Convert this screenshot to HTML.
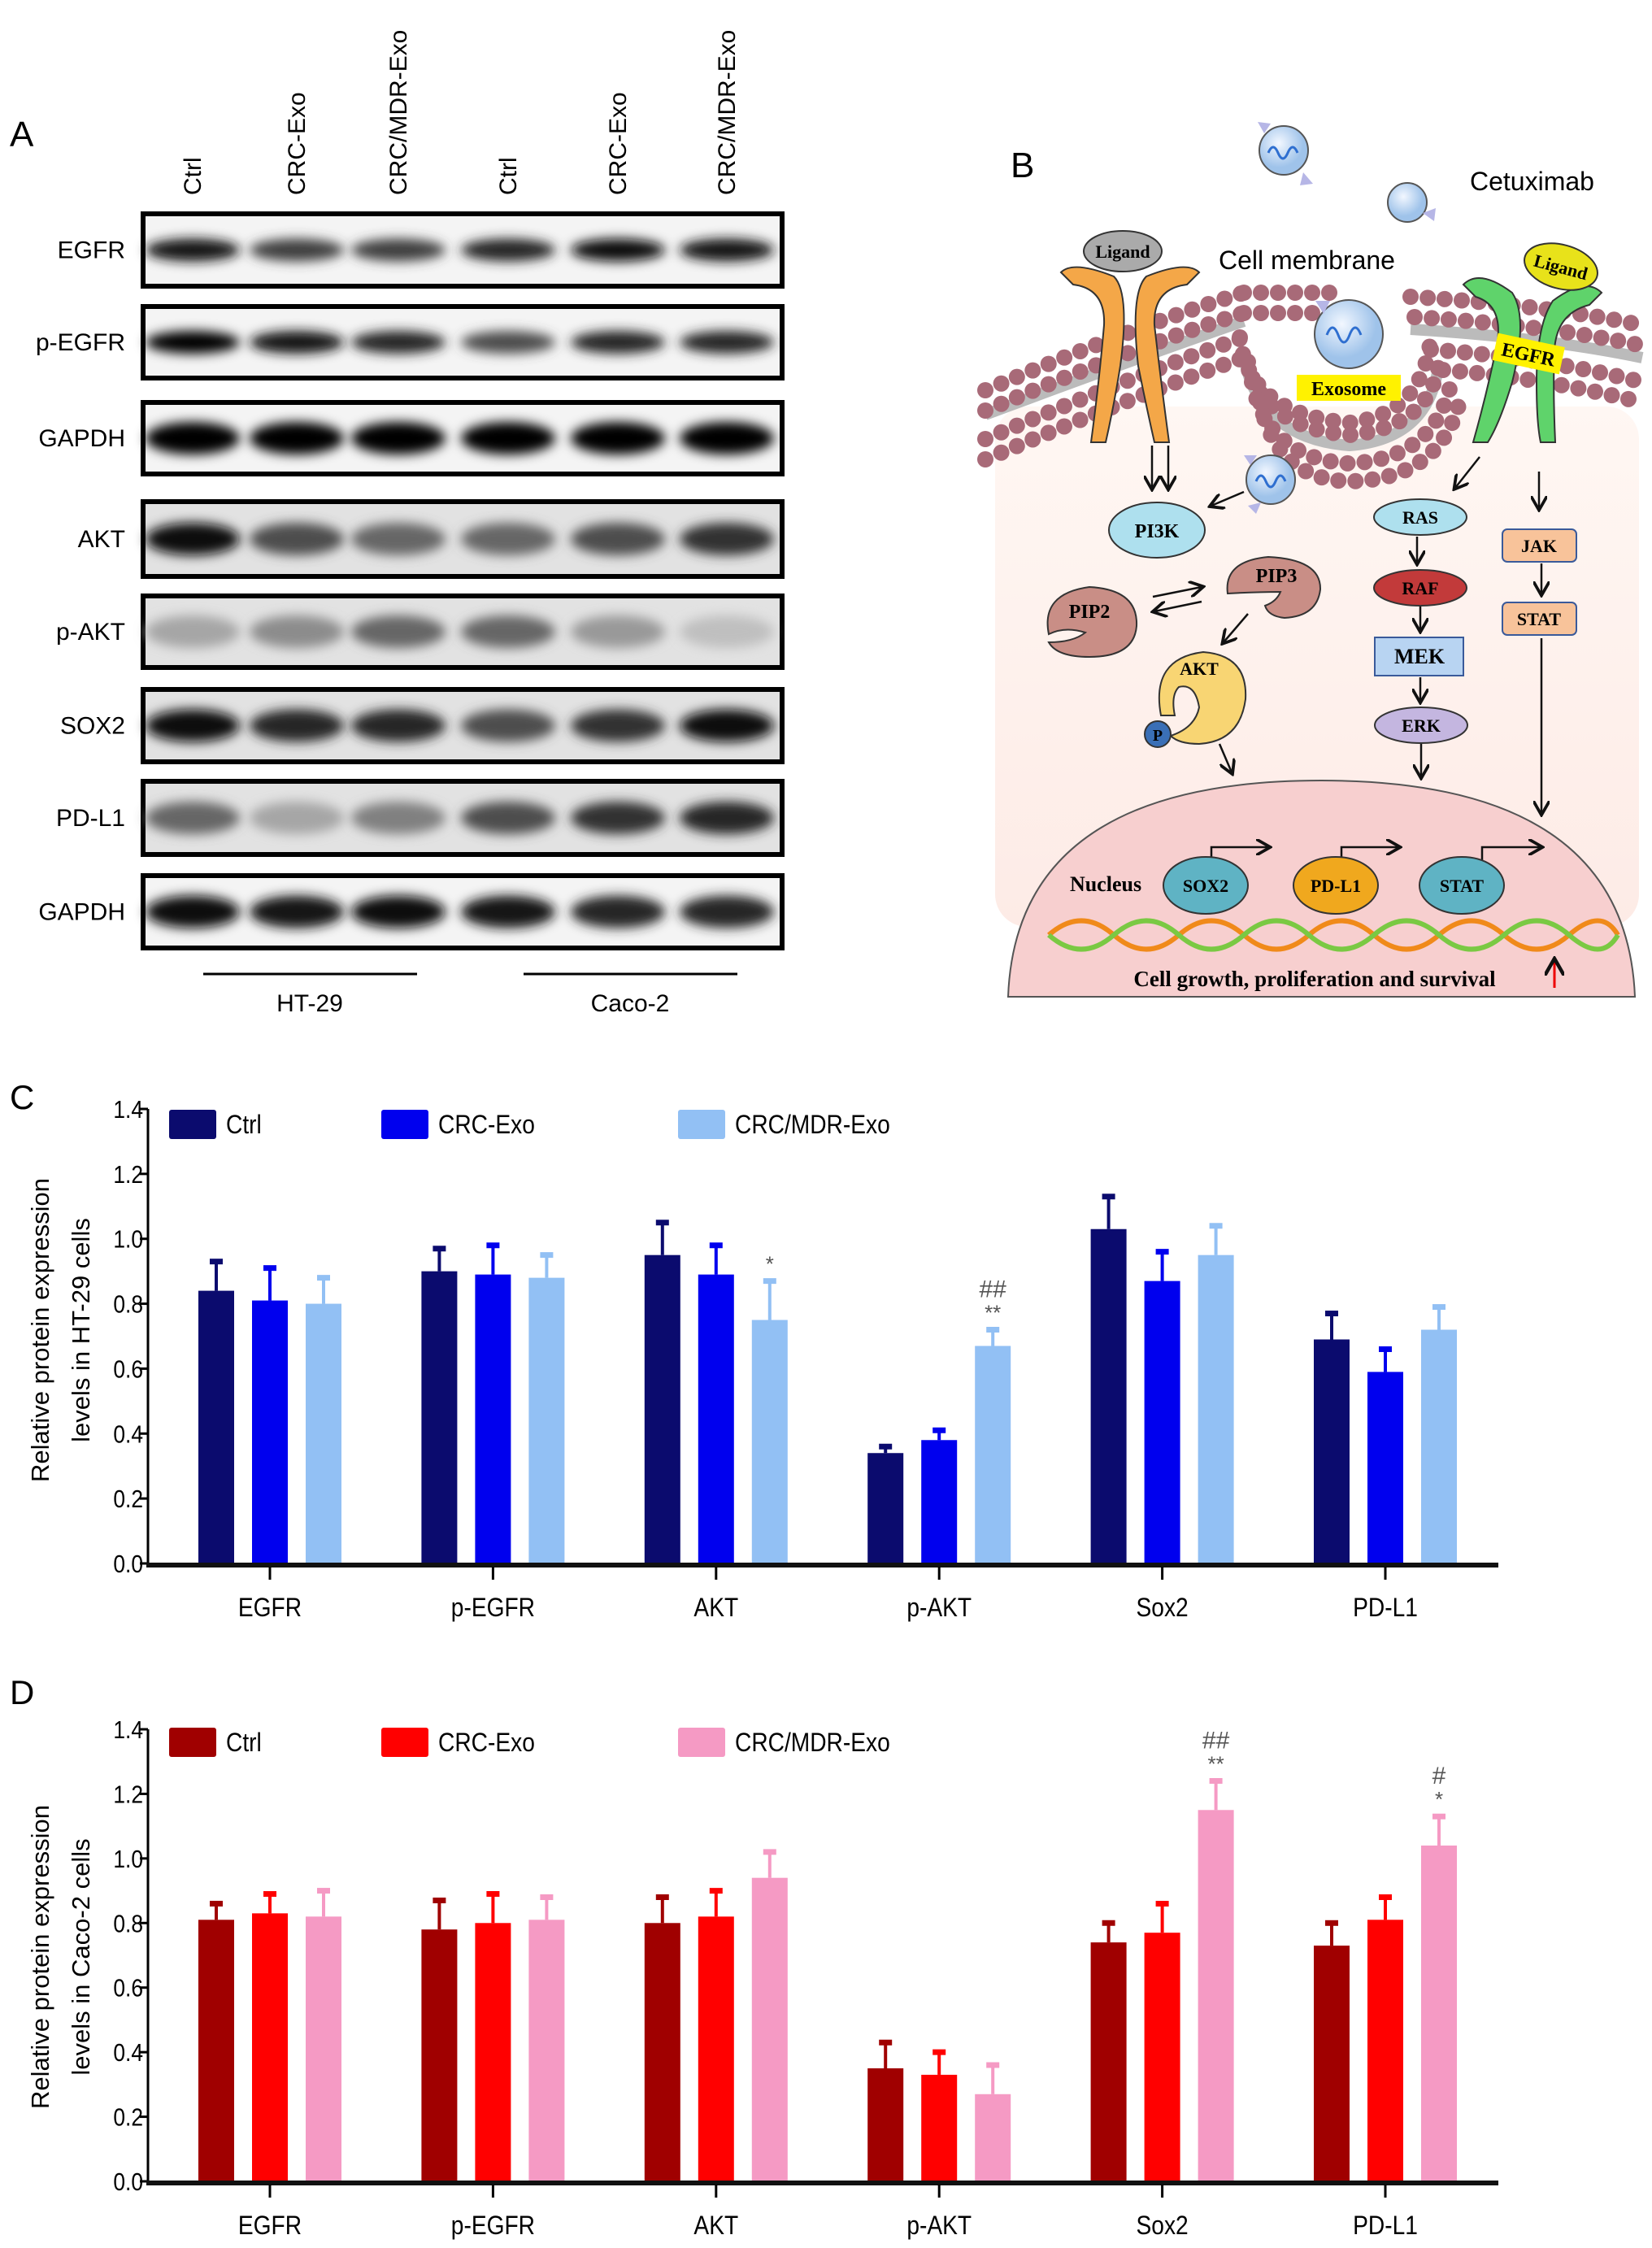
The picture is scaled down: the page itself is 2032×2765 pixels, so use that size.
<!DOCTYPE html>
<html><head><meta charset="utf-8"><style>
html,body{margin:0;padding:0;background:#fff}
svg{display:block;font-family:"Liberation Sans",sans-serif}
.serif{font-family:"Liberation Serif",serif;font-weight:bold}
</style></head><body>
<svg id="fig" width="2032" height="2765" viewBox="0 0 2032 2765" xmlns="http://www.w3.org/2000/svg">
<defs>
<filter id="blur" x="-30%" y="-80%" width="160%" height="260%"><feGaussianBlur stdDeviation="7"/></filter>
<marker id="ah" markerWidth="8" markerHeight="8" refX="6" refY="4" orient="auto"><path d="M0,0 L7,4 L0,8" fill="none" stroke="#111" stroke-width="1.5"/></marker>
<radialGradient id="ball" cx="40%" cy="35%"><stop offset="0" stop-color="#f2f7ff"/><stop offset="1" stop-color="#9fc3ea"/></radialGradient>
<linearGradient id="cyto" x1="0" y1="0" x2="0" y2="1"><stop offset="0" stop-color="#fff7f3"/><stop offset="1" stop-color="#fdebe6"/></linearGradient>
</defs>

<!-- PANEL A -->
<g>
<text x="12" y="180" font-size="44">A</text>
<g id="lanes" font-size="30"></g>
<g id="blots"></g>
<line x1="250" y1="1198" x2="513" y2="1198" stroke="#000" stroke-width="3"/>
<line x1="644" y1="1198" x2="907" y2="1198" stroke="#000" stroke-width="3"/>
<text x="381" y="1244" font-size="30" text-anchor="middle">HT-29</text>
<text x="775" y="1244" font-size="30" text-anchor="middle">Caco-2</text>
</g>

<!-- PANEL B -->
<g>
<text x="1243" y="218" font-size="44">B</text>
<rect x="1224" y="500" width="792" height="640" rx="40" fill="url(#cyto)"/>
<path d="M1240,1226 Q1250,960 1625,960 Q2000,960 2011,1226 Z" fill="#f7cfcf" stroke="#555" stroke-width="2"/>
<text x="1808" y="234" font-size="32">Cetuximab</text>
<text x="1499" y="331" font-size="32">Cell membrane</text>
<!-- membrane -->
<g fill="none" stroke="#a86a78" stroke-linecap="round">
<g stroke="#bbb" stroke-width="14" stroke-linecap="butt">
<path d="M1212,510 Q1400,440 1530,395"/>
<path d="M1735,405 Q1900,415 2020,440"/>
<path d="M1530,440 Q1550,540 1660,548 Q1760,540 1770,445"/>
</g>
<path d="M1212,480 Q1400,400 1530,360" stroke-width="20" stroke-dasharray="0 21"/>
<path d="M1212,505 Q1400,425 1530,385" stroke-width="20" stroke-dasharray="0 21"/>
<path d="M1212,540 Q1400,460 1530,415" stroke-width="20" stroke-dasharray="0 21"/>
<path d="M1212,565 Q1400,485 1530,440" stroke-width="20" stroke-dasharray="0 21"/>
<path d="M1530,360 L1640,360" stroke-width="20" stroke-dasharray="0 21"/>
<path d="M1530,385 L1620,385" stroke-width="20" stroke-dasharray="0 21"/>
<path d="M1525,415 Q1535,510 1660,520 Q1750,510 1760,415" stroke-width="20" stroke-dasharray="0 21"/>
<path d="M1535,445 Q1550,525 1660,535 Q1760,525 1770,445" stroke-width="20" stroke-dasharray="0 21"/>
<path d="M1540,470 Q1560,565 1660,570 Q1765,565 1785,470" stroke-width="20" stroke-dasharray="0 21"/>
<path d="M1550,495 Q1570,590 1660,592 Q1770,590 1795,495" stroke-width="20" stroke-dasharray="0 21"/>
<path d="M1735,365 Q1900,375 2020,400" stroke-width="20" stroke-dasharray="0 21"/>
<path d="M1740,390 Q1900,400 2020,425" stroke-width="20" stroke-dasharray="0 21"/>
<path d="M1760,430 Q1900,440 2020,470" stroke-width="20" stroke-dasharray="0 21"/>
<path d="M1775,455 Q1900,465 2020,495" stroke-width="20" stroke-dasharray="0 21"/>
</g>
<!-- orange receptor -->
<g fill="#f4a748" stroke="#333" stroke-width="2">
<path d="M1305,335 Q1320,320 1370,340 Q1390,360 1378,450 Q1370,500 1360,544 L1342,544 Q1352,470 1358,400 Q1360,355 1320,350 Z"/>
<path d="M1475,335 Q1460,320 1410,340 Q1390,360 1400,450 Q1410,500 1420,544 L1438,544 Q1428,470 1420,400 Q1418,355 1460,350 Z"/>
</g>
<ellipse cx="1381" cy="309" rx="48" ry="25" fill="#aaa" stroke="#333" stroke-width="2"/>
<text x="1381" y="317" font-size="22" text-anchor="middle" class="serif">Ligand</text>
<!-- green receptor -->
<g fill="#5fd36b" stroke="#333" stroke-width="2">
<path d="M1800,350 Q1820,330 1860,360 Q1880,390 1860,470 Q1845,520 1830,544 L1812,544 Q1830,480 1842,420 Q1848,375 1815,365 Z"/>
<path d="M1970,360 Q1950,340 1910,370 Q1890,400 1890,470 Q1890,520 1895,544 L1913,544 Q1910,480 1912,430 Q1915,385 1955,375 Z"/>
</g>
<ellipse cx="1920" cy="328" rx="46" ry="27" fill="#e8e21a" stroke="#333" stroke-width="2" transform="rotate(15 1920 328)"/>
<text x="1920" y="336" font-size="22" text-anchor="middle" class="serif" transform="rotate(15 1920 328)">Ligand</text>
<g transform="rotate(12 1880 436)"><rect x="1838" y="418" width="84" height="34" fill="#fff200"/><text x="1880" y="444" font-size="24" text-anchor="middle" class="serif">EGFR</text></g>
<!-- exosomes -->
<g><circle cx="1579" cy="185" r="30" fill="url(#ball)" stroke="#555" stroke-width="2"/><path d="M1560,188 q6,-14 12,0 t12,0 t12,0" fill="none" stroke="#2f6fd0" stroke-width="3"/><path d="M1547,150 l16,2 -8,12z M1603,212 l12,14 -16,2z" fill="#b6b6e6"/></g>
<g><circle cx="1731" cy="249" r="24" fill="url(#ball)" stroke="#555" stroke-width="2"/><path d="M1750,262 l16,-6 -2,16z" fill="#b6b6e6"/></g>
<g><circle cx="1659" cy="411" r="42" fill="url(#ball)" stroke="#555" stroke-width="2"/><path d="M1632,412 q7,-18 14,0 t14,0 t14,0" fill="none" stroke="#2f6fd0" stroke-width="3"/><path d="M1618,370 l18,0 -8,16z" fill="#b6b6e6"/></g>
<rect x="1595" y="461" width="128" height="32" fill="#fff200"/>
<text x="1659" y="486" font-size="24" text-anchor="middle" class="serif">Exosome</text>
<g><circle cx="1563" cy="590" r="30" fill="url(#ball)" stroke="#555" stroke-width="2"/><path d="M1545,592 q6,-14 12,0 t12,0 t12,0" fill="none" stroke="#2f6fd0" stroke-width="3"/><path d="M1530,560 l16,0 -8,12z M1535,622 l16,-4 -6,14z" fill="#b6b6e6"/></g>
<!-- arrows -->
<g stroke="#111" stroke-width="2.5" fill="none" marker-end="url(#ah)">
<line x1="1417" y1="548" x2="1417" y2="600"/><line x1="1437" y1="548" x2="1437" y2="600"/>
<line x1="1530" y1="605" x2="1490" y2="622"/>
<line x1="1418" y1="734" x2="1478" y2="722"/><line x1="1478" y1="740" x2="1420" y2="752"/>
<line x1="1535" y1="755" x2="1505" y2="790"/>
<line x1="1500" y1="915" x2="1515" y2="950"/>
<line x1="1820" y1="562" x2="1790" y2="600"/><line x1="1893" y1="580" x2="1893" y2="625"/>
<line x1="1743" y1="660" x2="1743" y2="692"/><line x1="1747" y1="746" x2="1747" y2="775"/>
<line x1="1747" y1="833" x2="1747" y2="862"/><line x1="1748" y1="915" x2="1748" y2="955"/>
<line x1="1896" y1="693" x2="1896" y2="730"/><line x1="1896" y1="785" x2="1896" y2="1000"/>
<path d="M1490,1060 v-18 h70"/><path d="M1650,1060 v-18 h70"/><path d="M1823,1060 v-18 h72"/>
</g>
<!-- nodes -->
<g><ellipse cx="1423" cy="652" rx="59" ry="34" fill="#aee0ee" stroke="#333" stroke-width="2"/><text x="1423" y="661" font-size="24" text-anchor="middle" class="serif">PI3K</text></g>
<g><path d="M1290,780 Q1280,730 1340,722 Q1400,725 1398,770 Q1395,808 1340,808 Q1300,808 1290,790 Q1320,790 1335,778 Q1310,770 1290,780 Z" fill="#c98e86" stroke="#333" stroke-width="2"/><text x="1340" y="760" font-size="24" text-anchor="middle" class="serif">PIP2</text></g>
<g><path d="M1510,730 Q1505,690 1560,685 Q1625,688 1624,725 Q1620,758 1580,760 Q1560,758 1556,745 Q1570,740 1575,728 Q1545,728 1510,730 Z" fill="#c98e86" stroke="#333" stroke-width="2"/><text x="1570" y="716" font-size="24" text-anchor="middle" class="serif">PIP3</text></g>
<g><path d="M1428,880 Q1415,810 1480,802 Q1535,806 1532,860 Q1525,912 1475,915 Q1450,915 1440,905 Q1470,895 1475,870 Q1470,840 1450,845 Q1440,855 1445,880 Z" fill="#f8d573" stroke="#333" stroke-width="2"/><text x="1475" y="830" font-size="22" text-anchor="middle" class="serif">AKT</text><circle cx="1424" cy="903" r="16" fill="#3a6fb6" stroke="#333" stroke-width="2"/><text x="1424" y="911" font-size="20" text-anchor="middle" class="serif">P</text></g>
<g><ellipse cx="1747" cy="636" rx="57" ry="22" fill="#aee0ee" stroke="#333" stroke-width="2"/><text x="1747" y="644" font-size="22" text-anchor="middle" class="serif">RAS</text></g>
<g><ellipse cx="1747" cy="723" rx="57" ry="22" fill="#c23a3a" stroke="#333" stroke-width="2"/><text x="1747" y="731" font-size="22" text-anchor="middle" class="serif">RAF</text></g>
<g><rect x="1691" y="784" width="109" height="47" fill="#b8d4f2" stroke="#3a5a9a" stroke-width="2"/><text x="1746" y="816" font-size="26" text-anchor="middle" class="serif">MEK</text></g>
<g><ellipse cx="1748" cy="892" rx="57" ry="22" fill="#c4b6e0" stroke="#333" stroke-width="2"/><text x="1748" y="900" font-size="22" text-anchor="middle" class="serif">ERK</text></g>
<g><rect x="1848" y="651" width="91" height="40" rx="6" fill="#f8c39a" stroke="#3a5a9a" stroke-width="2"/><text x="1893" y="679" font-size="22" text-anchor="middle" class="serif">JAK</text></g>
<g><rect x="1848" y="741" width="91" height="40" rx="6" fill="#f8c39a" stroke="#3a5a9a" stroke-width="2"/><text x="1893" y="769" font-size="22" text-anchor="middle" class="serif">STAT</text></g>
<text x="1360" y="1096" font-size="26" text-anchor="middle" class="serif">Nucleus</text>
<g><ellipse cx="1483" cy="1089" rx="52" ry="35" fill="#5fb3c4" stroke="#333" stroke-width="2"/><text x="1483" y="1097" font-size="22" text-anchor="middle" class="serif">SOX2</text></g>
<g><ellipse cx="1643" cy="1089" rx="52" ry="35" fill="#f0a81e" stroke="#333" stroke-width="2"/><text x="1643" y="1097" font-size="22" text-anchor="middle" class="serif">PD-L1</text></g>
<g><ellipse cx="1798" cy="1089" rx="52" ry="35" fill="#5fb3c4" stroke="#333" stroke-width="2"/><text x="1798" y="1097" font-size="22" text-anchor="middle" class="serif">STAT</text></g>
<g fill="none" stroke-width="6">
<path d="M1290,1150 q40,-35 80,0 t80,0 t80,0 t80,0 t80,0 t80,0 t80,0 t80,0 t60,0" stroke="#f08a1a"/>
<path d="M1290,1150 q40,35 80,0 t80,0 t80,0 t80,0 t80,0 t80,0 t80,0 t80,0 t60,0" stroke="#7ac943"/>
</g>
<text x="1617" y="1213" font-size="27" text-anchor="middle" class="serif">Cell growth, proliferation and survival</text>
<line x1="1912" y1="1215" x2="1912" y2="1182" stroke="#e00" stroke-width="3" marker-end="url(#ah)"/>
</g>

<g id="chartC"></g>
<g id="chartD"></g>
</svg>
<script>
const NS='http://www.w3.org/2000/svg';
function mk(parent,tag,attrs,text){const e=document.createElementNS(NS,tag);for(const k in attrs)e.setAttribute(k,attrs[k]);if(text!==undefined)e.textContent=text;parent.appendChild(e);return e;}

// ---- Panel A blots ----
const laneLabels=['Ctrl','CRC-Exo','CRC/MDR-Exo','Ctrl','CRC-Exo','CRC/MDR-Exo'];
const blotRows=['EGFR','p-EGFR','GAPDH','AKT','p-AKT','SOX2','PD-L1','GAPDH'];
const blotIntensity=[[0.9,0.75,0.75,0.85,0.95,0.9],[1,0.9,0.85,0.7,0.85,0.85],[1,1,1,1,1,1],[0.95,0.7,0.6,0.6,0.7,0.8],[0.35,0.45,0.6,0.6,0.4,0.25],[0.95,0.85,0.85,0.7,0.8,0.95],[0.6,0.35,0.5,0.7,0.8,0.85],[0.95,0.9,0.95,0.9,0.85,0.85]];
const laneX=[237,365,490,625,760,894];
const rowTop=[263,377,495,617,733,848,961,1077];
const rowBot=[352,465,583,709,821,937,1051,1166];
const lanes=document.getElementById('lanes');
laneLabels.forEach((t,i)=>{
  const e=mk(lanes,'text',{x:0,y:0,transform:`translate(${laneX[i]+10},240) rotate(-90)`,'font-size':30},t);
  
  
});
const blots=document.getElementById('blots');
blotRows.forEach((name,r)=>{
  const g=mk(blots,'g',{});
  
  
  const bg=r>=3&&r<=6?'#e2e2e2':'#f4f4f4';
  mk(g,'rect',{x:176,y:rowTop[r],width:786,height:rowBot[r]-rowTop[r],fill:bg,stroke:'#000','stroke-width':6});
  const cy=(rowTop[r]+rowBot[r])/2;
  const ry=(r===2||r===7||r>=3)?20:14;
  blotIntensity[r].forEach((v,i)=>{
    const c=Math.round(255*(1-v));
    mk(g,'ellipse',{cx:laneX[i],cy:cy,rx:58,ry:ry,fill:`rgb(${c},${c},${c})`,filter:'url(#blur)'});
  });
  const l=mk(blots,'text',{x:154,y:cy+10,'font-size':30,'text-anchor':'end'},name);
  
  
});

// ---- Charts ----
const categories=['EGFR','p-EGFR','AKT','p-AKT','Sox2','PD-L1'];
const seriesNames=['Ctrl','CRC-Exo','CRC/MDR-Exo'];
const yTicks=['0.0','0.2','0.4','0.6','0.8','1.0','1.2','1.4'];
const cCtrl=[0.84,0.90,0.95,0.34,1.03,0.69];
const cCtrlErr=[0.09,0.07,0.10,0.02,0.10,0.08];
const cExo=[0.81,0.89,0.89,0.38,0.87,0.59];
const cExoErr=[0.10,0.09,0.09,0.03,0.09,0.07];
const cMdr=[0.80,0.88,0.75,0.67,0.95,0.72];
const cMdrErr=[0.08,0.07,0.12,0.05,0.09,0.07];
const cAnnot=['','','*','**|##','',''];
const dCtrl=[0.81,0.78,0.80,0.35,0.74,0.73];
const dCtrlErr=[0.05,0.09,0.08,0.08,0.06,0.07];
const dExo=[0.83,0.80,0.82,0.33,0.77,0.81];
const dExoErr=[0.06,0.09,0.08,0.07,0.09,0.07];
const dMdr=[0.82,0.81,0.94,0.27,1.15,1.04];
const dMdrErr=[0.08,0.07,0.08,0.09,0.09,0.09];
const dAnnot=['','','','','**|##','*|#'];

function chart(gid,o){
  const g=document.getElementById(gid);
  const x0=182,x1=1843,catX0=332,catStep=274.4,bw=44,off=66;
  const y=v=>o.y0-v/1.4*(o.y0-o.y14);
  const cx=i=>catX0+i*catStep;
  const pl=mk(g,'text',{x:12,y:o.labY,'font-size':42},o.letter);
  
  
  const ax=mk(g,'g',{});
  
  
  mk(ax,'line',{x1:x0,y1:y(0)+2,x2:x0,y2:y(1.4),stroke:'#000','stroke-width':3});
  yTicks.forEach(t=>{
    const v=parseFloat(t);
    mk(ax,'line',{x1:x0-10,y1:y(v),x2:x0,y2:y(v),stroke:'#000','stroke-width':3});
    const e=mk(ax,'text',{x:x0-6,y:y(v)+11,'font-size':31,'text-anchor':'end',transform:`translate(${x0-6},0) scale(0.85,1) translate(${-(x0-6)},0)`},t);
    
    
  });
  const tt=mk(g,'text',{'font-size':31,'text-anchor':'middle',transform:`translate(0,${o.titleY}) rotate(-90)`});
  
  
  mk(tt,'tspan',{x:0,y:60},'Relative protein expression');
  mk(tt,'tspan',{x:0,y:110},o.title2);
  o.series.forEach((s,si)=>{
    categories.forEach((c,i)=>{
      const bx=cx(i)+(si-1)*off;
      const top=y(s.v[i]),et=y(s.v[i]+s.e[i]);
      const b=mk(g,'rect',{x:bx-bw/2,y:top,width:bw,height:y(0)-top,fill:o.colors[si]});
      
      
      const eb=mk(g,'g',{stroke:o.colors[si],'stroke-width':4});
      
      
      mk(eb,'line',{x1:bx,y1:top,x2:bx,y2:et});
      mk(eb,'line',{x1:bx-8,y1:et,x2:bx+8,y2:et,'stroke-width':7});
    });
  });
  o.annot.forEach((a,i)=>{
    if(!a)return;
    const s=o.series[2];const bx=cx(i)+off;const et=y(s.v[i]+s.e[i]);
    a.split('|').forEach((t,k)=>{
      const e=mk(g,'text',{x:bx,y:et-12-k*28,'font-size':t[0]=='*'?26:30,'text-anchor':'middle',fill:'#555'},t);
      
      
    });
  });
  const xa=mk(g,'g',{});
  
  
  mk(xa,'line',{x1:x0-2,y1:y(0)+2,x2:x1,y2:y(0)+2,stroke:'#111','stroke-width':6});
  categories.forEach((c,i)=>{
    mk(xa,'line',{x1:cx(i),y1:y(0)+4,x2:cx(i),y2:y(0)+20,stroke:'#000','stroke-width':3});
    const e=mk(xa,'text',{x:cx(i),y:o.catY,'font-size':32,'text-anchor':'middle',transform:`translate(${cx(i)},0) scale(0.88,1) translate(${-cx(i)},0)`},c);
    
    
  });
  const lx=[208,469,834];
  seriesNames.forEach((n,i)=>{
    const lg=mk(g,'g',{});
    
    
    mk(lg,'rect',{x:lx[i],y:o.legY-18,width:58,height:36,fill:o.colors[i],rx:3});
    mk(lg,'text',{x:lx[i]+70,y:o.legY+11,'font-size':32,transform:`translate(${lx[i]+70},0) scale(0.88,1) translate(${-(lx[i]+70)},0)`},n);
  });
}
chart('chartC',{letter:'C',labY:1364,y0:1923,y14:1364,titleY:1636,title2:'levels in HT-29 cells',catY:1988,legY:1383,
  colors:['#0b0b6e','#0000ee','#92c0f4'],annot:cAnnot,
  series:[{v:cCtrl,e:cCtrlErr},{v:cExo,e:cExoErr},{v:cMdr,e:cMdrErr}]});
chart('chartD',{letter:'D',labY:2096,y0:2683,y14:2127,titleY:2407,title2:'levels in Caco-2  cells',catY:2748,legY:2143,
  colors:['#a00000','#ff0000','#f59ac4'],annot:dAnnot,
  series:[{v:dCtrl,e:dCtrlErr},{v:dExo,e:dExoErr},{v:dMdr,e:dMdrErr}]});
</script>
</body></html>
